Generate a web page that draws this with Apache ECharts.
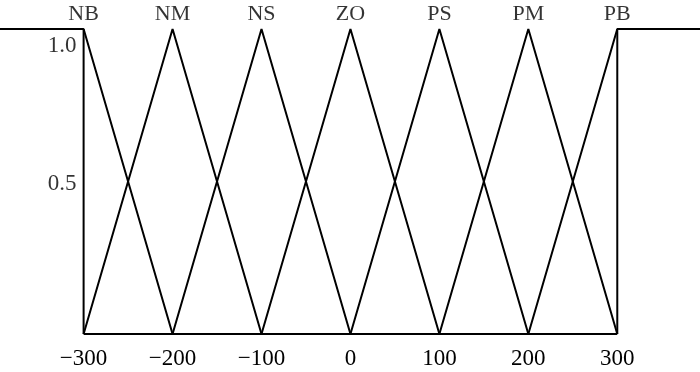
<!DOCTYPE html>
<html>
<head>
<meta charset="utf-8">
<script src="https://cdn.jsdelivr.net/npm/echarts@6/dist/echarts.min.js"></script>
<style>html,body{margin:0;padding:0;background:#fff;}#c{width:700px;height:372px;}</style>
</head>
<body>
<div id="c"></div>
<script>
var setNames = ['NB', 'NM', 'NS', 'ZO', 'PS', 'PM', 'PB'];
var peaks = [-300, -200, -100, 0, 100, 200, 300];
var xTicks = [-300, -200, -100, 0, 100, 200, 300];
var yTickValues = [0.5, 0.95];
var yTickLabels = ['0.5', '1.0'];
var NB = [[-394, 1], [-300, 1], [-200, 0]];
var NM = [[-300, 0], [-200, 1], [-100, 0]];
var NS = [[-200, 0], [-100, 1], [0, 0]];
var ZO = [[-100, 0], [0, 1], [100, 0]];
var PS = [[0, 0], [100, 1], [200, 0]];
var PM = [[100, 0], [200, 1], [300, 0]];
var PB = [[200, 0], [300, 1], [393, 1]];
var PBedge = [[300, 0], [300, 1]];
var xAxisLine = [[-300, 0], [300, 0]];
var yAxisLine = [[-300, 0], [-300, 1]];
var xMin = -394, xMax = 393;

var font = '"Liberation Serif", "Times New Roman", serif';
var chart = echarts.init(document.getElementById('c'), null, {renderer: 'canvas'});
function lineSeries(name, data) {
  return {
    name: name, type: 'line', data: data, symbol: 'none',
    lineStyle: {color: '#000', width: 2}, animation: false, silent: true
  };
}
var series = [
  lineSeries('xAxisLine', xAxisLine), lineSeries('yAxisLine', yAxisLine),
  lineSeries('NB', NB), lineSeries('NM', NM), lineSeries('NS', NS), lineSeries('ZO', ZO),
  lineSeries('PS', PS), lineSeries('PM', PM), lineSeries('PB', PB), lineSeries('PBedge', PBedge),
  {
    type: 'scatter', clip: false, symbolSize: 0, animation: false, silent: true,
    data: peaks.map(function (p, i) { return {value: [p, 1], name: setNames[i]}; }),
    label: {
      show: true, position: 'top', distance: 4, formatter: '{b}',
      color: '#000', fontFamily: font, fontSize: 22
    }
  },
  {
    type: 'scatter', clip: false, symbolSize: 0, animation: false, silent: true,
    data: yTickValues.map(function (v, i) { return {value: [-300, v], name: yTickLabels[i]}; }),
    label: {
      show: true, position: 'left', distance: 7, offset: [0, 2], formatter: '{b}',
      color: '#000', fontFamily: font, fontSize: 23
    }
  }
];
chart.setOption({
  backgroundColor: '#fff',
  animation: false,
  grid: {left: 0, right: 0, top: 29, bottom: 38, containLabel: false},
  xAxis: {
    type: 'value', min: xMin, max: xMax,
    axisLine: {show: false},
    axisTick: {show: false}, splitLine: {show: false},
    axisLabel: {
      color: '#000', fontFamily: font, fontSize: 23, margin: 13,
      customValues: xTicks,
      formatter: function (v) { return v < 0 ? '\u2212' + Math.abs(v) : String(v); }
    }
  },
  yAxis: {
    type: 'value', min: 0, max: 1,
    axisLine: {show: false}, axisTick: {show: false}, splitLine: {show: false},
    axisLabel: {show: false}
  },
  series: series
});
</script>
</body>
</html>
